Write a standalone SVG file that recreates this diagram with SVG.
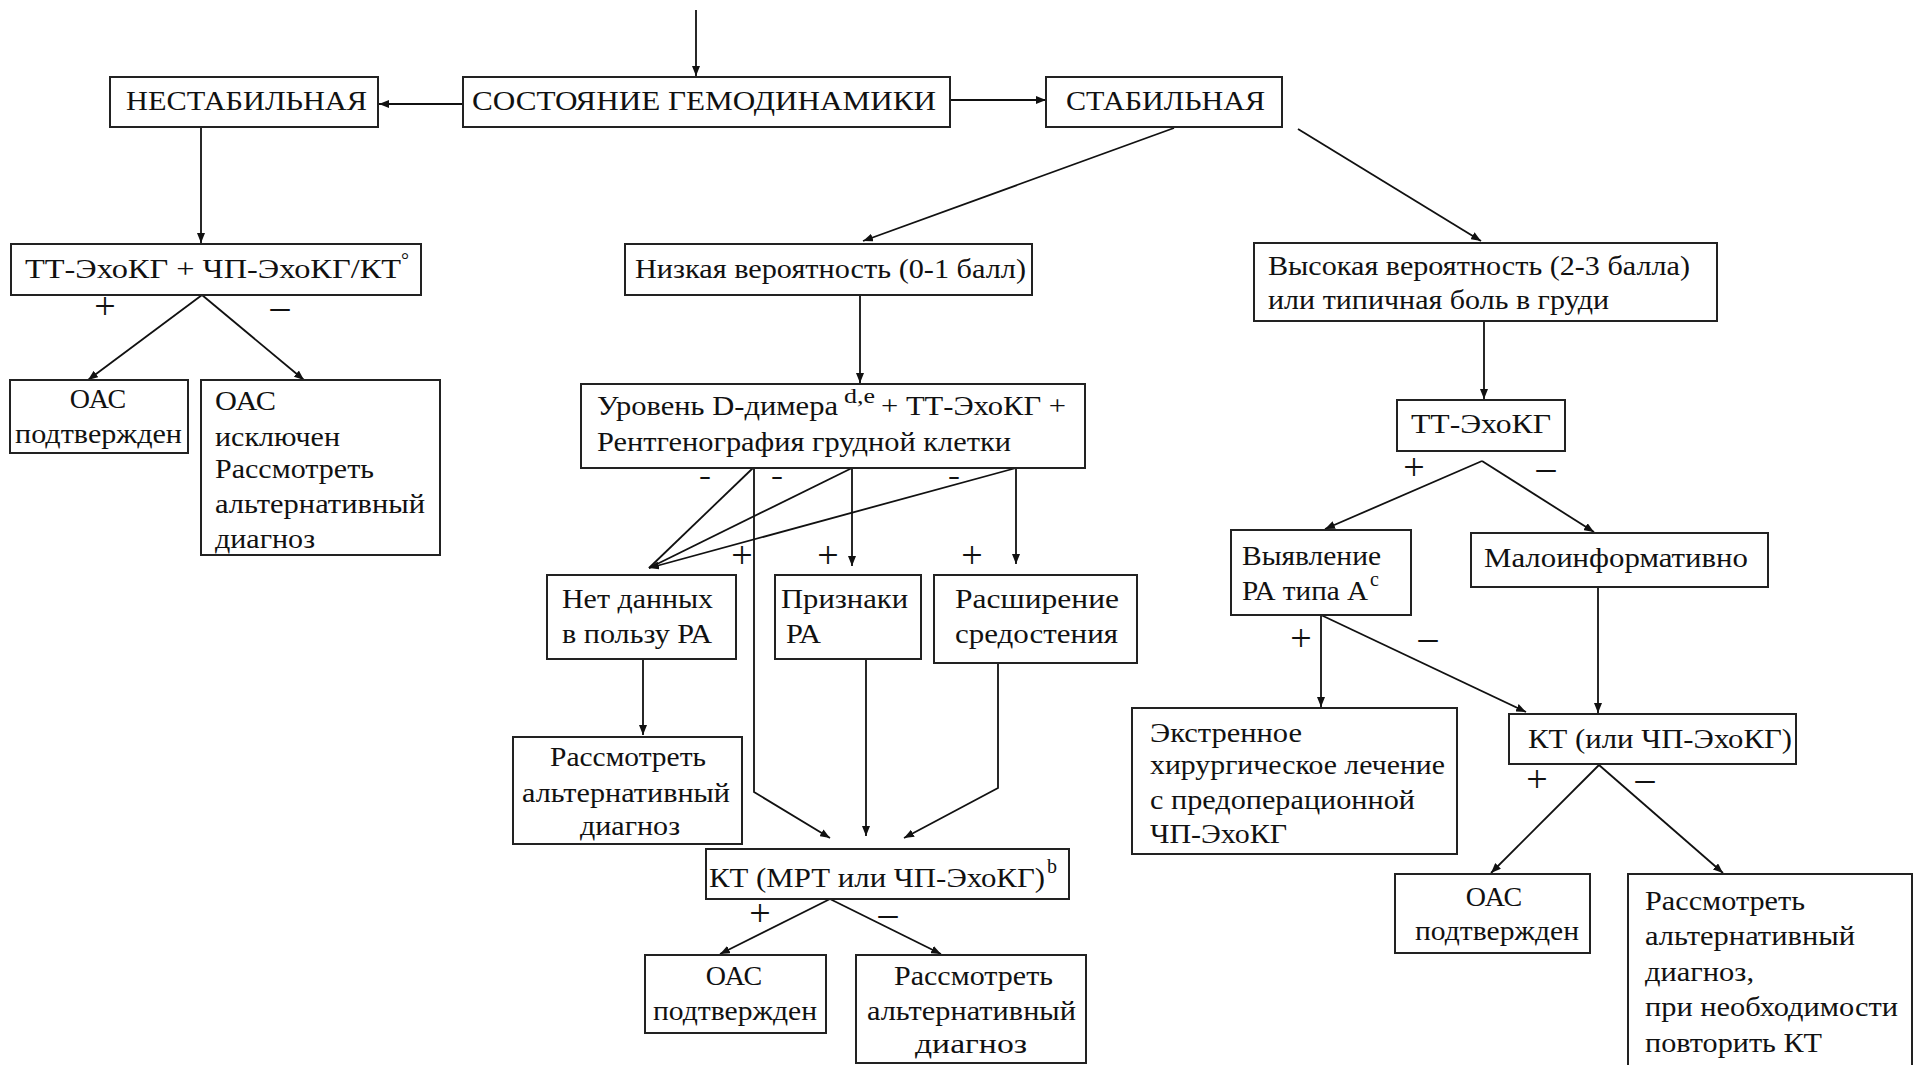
<svg xmlns="http://www.w3.org/2000/svg" width="1915" height="1065" viewBox="0 0 1915 1065">
<defs>
<marker id="arr" viewBox="0 0 10 8" refX="10" refY="4" markerWidth="10" markerHeight="8" markerUnits="userSpaceOnUse" orient="auto">
<path d="M0,0 L10,4 L0,8 Z" fill="#111"/>
</marker>
</defs>
<style>
rect{fill:#fff;stroke:#222;stroke-width:2}
text{font-family:"Liberation Serif","Times New Roman",serif;font-size:28px;fill:#111}
.sup{font-size:20px}
.pm{font-size:38px}
.hy{font-size:24px;font-weight:bold}
#connectors line,#connectors polyline{stroke:#111;stroke-width:1.8;fill:none}
</style>
<rect x="0" y="0" width="1915" height="1065" style="fill:#fff;stroke:none"/>

<g id="connectors">
<line x1="696" y1="10" x2="696" y2="76" marker-end="url(#arr)"/>
<line x1="463" y1="104" x2="379" y2="104" marker-end="url(#arr)"/>
<line x1="950" y1="100" x2="1046" y2="100" marker-end="url(#arr)"/>
<line x1="201" y1="127" x2="201" y2="243" marker-end="url(#arr)"/>
<line x1="1174" y1="128" x2="863" y2="241" marker-end="url(#arr)"/>
<line x1="1298" y1="129" x2="1481" y2="241" marker-end="url(#arr)"/>
<line x1="1484" y1="321" x2="1484" y2="399" marker-end="url(#arr)"/>
<line x1="202" y1="295" x2="88" y2="380" marker-end="url(#arr)"/>
<line x1="202" y1="295" x2="304" y2="380" marker-end="url(#arr)"/>
<line x1="860" y1="295" x2="860" y2="383" marker-end="url(#arr)"/>
<line x1="753" y1="468" x2="649" y2="568"/>
<line x1="852" y1="468" x2="649" y2="568"/>
<line x1="1016" y1="468" x2="649" y2="568" marker-end="url(#arr)"/>
<polyline points="754,468 754,792 830,838" marker-end="url(#arr)"/>
<line x1="852" y1="468" x2="852" y2="566" marker-end="url(#arr)"/>
<line x1="1016" y1="468" x2="1016" y2="564" marker-end="url(#arr)"/>
<line x1="643" y1="660" x2="643" y2="735" marker-end="url(#arr)"/>
<line x1="866" y1="660" x2="866" y2="836" marker-end="url(#arr)"/>
<polyline points="998,663 998,788 904,838" marker-end="url(#arr)"/>
<line x1="830" y1="899" x2="720" y2="954" marker-end="url(#arr)"/>
<line x1="830" y1="899" x2="941" y2="954" marker-end="url(#arr)"/>
<line x1="1482" y1="461" x2="1325" y2="529" marker-end="url(#arr)"/>
<line x1="1482" y1="461" x2="1594" y2="532" marker-end="url(#arr)"/>
<line x1="1321" y1="615" x2="1321" y2="707" marker-end="url(#arr)"/>
<line x1="1321" y1="615" x2="1526" y2="712" marker-end="url(#arr)"/>
<line x1="1598" y1="587" x2="1598" y2="713" marker-end="url(#arr)"/>
<line x1="1599" y1="765" x2="1491" y2="873" marker-end="url(#arr)"/>
<line x1="1599" y1="765" x2="1723" y2="873" marker-end="url(#arr)"/>
</g>

<g id="labels">
<text class="pm" x="105" y="319" text-anchor="middle">+</text>
<text class="pm" x="280" y="319" text-anchor="middle">–</text>
<text class="hy" x="699" y="484" textLength="12" lengthAdjust="spacingAndGlyphs">-</text>
<text class="hy" x="771" y="484" textLength="12" lengthAdjust="spacingAndGlyphs">-</text>
<text class="hy" x="948" y="484" textLength="12" lengthAdjust="spacingAndGlyphs">-</text>
<text class="pm" x="742" y="568" text-anchor="middle">+</text>
<text class="pm" x="828" y="568" text-anchor="middle">+</text>
<text class="pm" x="972" y="568" text-anchor="middle">+</text>
<text class="pm" x="760" y="926" text-anchor="middle">+</text>
<text class="pm" x="888" y="926" text-anchor="middle">–</text>
<text class="pm" x="1414" y="480" text-anchor="middle">+</text>
<text class="pm" x="1546" y="480" text-anchor="middle">–</text>
<text class="pm" x="1301" y="651" text-anchor="middle">+</text>
<text class="pm" x="1428" y="650" text-anchor="middle">–</text>
<text class="pm" x="1537" y="792" text-anchor="middle">+</text>
<text class="pm" x="1645" y="791" text-anchor="middle">–</text>
</g>

<g id="n-sost">
<rect x="463" y="77" width="487" height="50"/>
<text x="472" y="110" textLength="464" lengthAdjust="spacingAndGlyphs">СОСТОЯНИЕ ГЕМОДИНАМИКИ</text>
</g>
<g id="n-nestab">
<rect x="110" y="77" width="268" height="50"/>
<text x="126" y="110" textLength="241" lengthAdjust="spacingAndGlyphs">НЕСТАБИЛЬНАЯ</text>
</g>
<g id="n-stab">
<rect x="1046" y="77" width="236" height="50"/>
<text x="1066" y="110" textLength="199" lengthAdjust="spacingAndGlyphs">СТАБИЛЬНАЯ</text>
</g>
<g id="n-tt-chp">
<rect x="11" y="244" width="410" height="51"/>
<text x="25" y="278" textLength="376" lengthAdjust="spacingAndGlyphs">ТТ-ЭхоКГ + ЧП-ЭхоКГ/КТ</text>
<text class="sup" x="401" y="267">°</text>
</g>
<g id="n-low">
<rect x="625" y="244" width="407" height="51"/>
<text x="635" y="278" textLength="391" lengthAdjust="spacingAndGlyphs">Низкая вероятность (0-1 балл)</text>
</g>
<g id="n-high">
<rect x="1254" y="243" width="463" height="78"/>
<text x="1268" y="275" textLength="422" lengthAdjust="spacingAndGlyphs">Высокая вероятность (2-3 балла)</text>
<text x="1268" y="309" textLength="341" lengthAdjust="spacingAndGlyphs">или типичная боль в груди</text>
</g>
<g id="n-tte">
<rect x="1397" y="400" width="168" height="51"/>
<text x="1411" y="433" textLength="140" lengthAdjust="spacingAndGlyphs">ТТ-ЭхоКГ</text>
</g>
<g id="n-oac1">
<rect x="10" y="380" width="178" height="73"/>
<text x="98" y="408" text-anchor="middle">ОАС</text>
<text x="15" y="443" textLength="167" lengthAdjust="spacingAndGlyphs">подтвержден</text>
</g>
<g id="n-oac-excl">
<rect x="201" y="380" width="239" height="175"/>
<text x="215" y="410" textLength="61" lengthAdjust="spacingAndGlyphs">ОАС</text>
<text x="215" y="446" textLength="125" lengthAdjust="spacingAndGlyphs">исключен</text>
<text x="215" y="478" textLength="159" lengthAdjust="spacingAndGlyphs">Рассмотреть</text>
<text x="215" y="513" textLength="210" lengthAdjust="spacingAndGlyphs">альтернативный</text>
<text x="215" y="548" textLength="100" lengthAdjust="spacingAndGlyphs">диагноз</text>
</g>
<g id="n-ddimer">
<rect x="581" y="384" width="504" height="84"/>
<text x="597" y="415" textLength="241" lengthAdjust="spacingAndGlyphs">Уровень D-димера</text>
<text class="sup" x="844" y="403" textLength="31" lengthAdjust="spacingAndGlyphs">d,e</text>
<text x="881" y="415" textLength="185" lengthAdjust="spacingAndGlyphs">+ ТТ-ЭхоКГ +</text>
<text x="597" y="451" textLength="414" lengthAdjust="spacingAndGlyphs">Рентгенография грудной клетки</text>
</g>
<g id="n-nodata">
<rect x="547" y="575" width="189" height="84"/>
<text x="562" y="608" textLength="151" lengthAdjust="spacingAndGlyphs">Нет данных</text>
<text x="562" y="643" textLength="150" lengthAdjust="spacingAndGlyphs">в пользу РА</text>
</g>
<g id="n-signs">
<rect x="775" y="575" width="146" height="84"/>
<text x="781" y="608" textLength="127" lengthAdjust="spacingAndGlyphs">Признаки</text>
<text x="786" y="643" textLength="35" lengthAdjust="spacingAndGlyphs">РА</text>
</g>
<g id="n-mediast">
<rect x="934" y="575" width="203" height="88"/>
<text x="955" y="608" textLength="164" lengthAdjust="spacingAndGlyphs">Расширение</text>
<text x="955" y="643" textLength="163" lengthAdjust="spacingAndGlyphs">средостения</text>
</g>
<g id="n-alt1">
<rect x="513" y="737" width="229" height="107"/>
<text x="550" y="766" textLength="156" lengthAdjust="spacingAndGlyphs">Рассмотреть</text>
<text x="522" y="802" textLength="208" lengthAdjust="spacingAndGlyphs">альтернативный</text>
<text x="580" y="835" textLength="100" lengthAdjust="spacingAndGlyphs">диагноз</text>
</g>
<g id="n-ct-mri">
<rect x="706" y="849" width="363" height="50"/>
<text x="709" y="887" textLength="336" lengthAdjust="spacingAndGlyphs">КТ (МРТ или ЧП-ЭхоКГ)</text>
<text class="sup" x="1047" y="873">b</text>
</g>
<g id="n-oac2">
<rect x="645" y="955" width="181" height="78"/>
<text x="734" y="985" text-anchor="middle">ОАС</text>
<text x="653" y="1020" textLength="164" lengthAdjust="spacingAndGlyphs">подтвержден</text>
</g>
<g id="n-alt2">
<rect x="856" y="955" width="230" height="108"/>
<text x="894" y="985" textLength="159" lengthAdjust="spacingAndGlyphs">Рассмотреть</text>
<text x="867" y="1020" textLength="209" lengthAdjust="spacingAndGlyphs">альтернативный</text>
<text x="915" y="1053" textLength="112" lengthAdjust="spacingAndGlyphs">диагноз</text>
</g>
<g id="n-typeA">
<rect x="1231" y="530" width="180" height="85"/>
<text x="1242" y="565" textLength="139" lengthAdjust="spacingAndGlyphs">Выявление</text>
<text x="1242" y="600" textLength="126" lengthAdjust="spacingAndGlyphs">РА типа А</text>
<text class="sup" x="1370" y="586">c</text>
</g>
<g id="n-lowinfo">
<rect x="1471" y="533" width="297" height="54"/>
<text x="1484" y="567" textLength="264" lengthAdjust="spacingAndGlyphs">Малоинформативно</text>
</g>
<g id="n-surgery">
<rect x="1132" y="708" width="325" height="146"/>
<text x="1150" y="742" textLength="152" lengthAdjust="spacingAndGlyphs">Экстренное</text>
<text x="1150" y="774" textLength="295" lengthAdjust="spacingAndGlyphs">хирургическое лечение</text>
<text x="1150" y="809" textLength="265" lengthAdjust="spacingAndGlyphs">с предоперационной</text>
<text x="1150" y="843" textLength="137" lengthAdjust="spacingAndGlyphs">ЧП-ЭхоКГ</text>
</g>
<g id="n-ct-tee">
<rect x="1509" y="714" width="287" height="50"/>
<text x="1528" y="748" textLength="264" lengthAdjust="spacingAndGlyphs">КТ (или ЧП-ЭхоКГ)</text>
</g>
<g id="n-oac3">
<rect x="1395" y="874" width="195" height="79"/>
<text x="1494" y="906" text-anchor="middle">ОАС</text>
<text x="1415" y="940" textLength="164" lengthAdjust="spacingAndGlyphs">подтвержден</text>
</g>
<g id="n-alt3">
<rect x="1628" y="874" width="284" height="200"/>
<text x="1645" y="910" textLength="160" lengthAdjust="spacingAndGlyphs">Рассмотреть</text>
<text x="1645" y="945" textLength="210" lengthAdjust="spacingAndGlyphs">альтернативный</text>
<text x="1645" y="981" textLength="109" lengthAdjust="spacingAndGlyphs">диагноз,</text>
<text x="1645" y="1016" textLength="253" lengthAdjust="spacingAndGlyphs">при необходимости</text>
<text x="1645" y="1052" textLength="177" lengthAdjust="spacingAndGlyphs">повторить КТ</text>
</g>
</svg>
